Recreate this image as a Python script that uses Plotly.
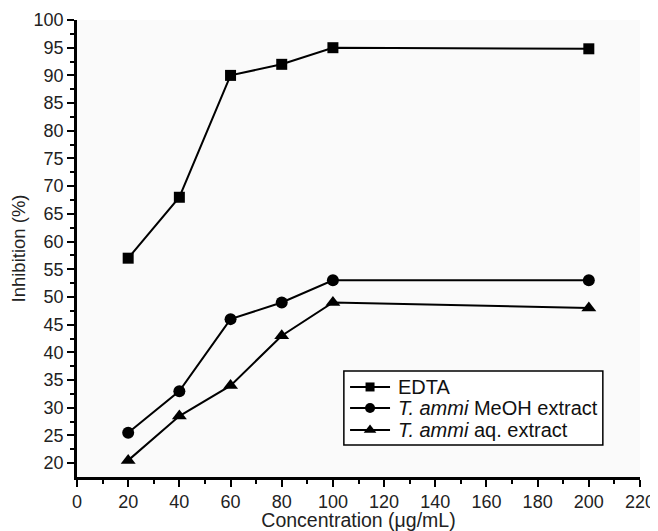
import plotly.graph_objects as go

conc = [20, 40, 60, 80, 100, 200]
edta = [57, 68, 90, 92, 95, 94.8]
meoh = [25.5, 33, 46, 49, 53, 53]
aq = [20.5, 28.5, 34, 43, 49, 48]

names = ["EDTA", "<i>T. ammi</i> MeOH extract", "<i>T. ammi</i> aq. extract"]
series = [edta, meoh, aq]
symbols = ["square", "circle", "triangle-up"]
sizes = [11, 12, 13]
legend_sizes = [9, 10, 11]

FONT = "Liberation Sans, Arial, Helvetica, sans-serif"

# legend box layout (fractions of the plot area)
LEG_X0, LEG_X1, LEG_Y0, LEG_Y1 = 0.474, 0.934, 0.070, 0.232
LEG_ROWS = [0.197, 0.151, 0.103]
LEG_LINE = (0.485, 0.556)
LEG_TEXT_X = 0.566

fig = go.Figure()
for n, s, sym, sz in zip(names, series, symbols, sizes):
    fig.add_trace(go.Scatter(x=conc, y=s, name=n, mode="lines+markers",
                             line=dict(color="black", width=2),
                             marker=dict(symbol=sym, size=sz, color="black"),
                             showlegend=False))

# hand-built legend (tighter row spacing than plotly's own legend)
fig.add_shape(type="rect", xref="paper", yref="paper",
              x0=LEG_X0, x1=LEG_X1, y0=LEG_Y0, y1=LEG_Y1,
              line=dict(color="black", width=1.5), fillcolor="white", layer="below")
for n, sym, sz, ry in zip(names, symbols, legend_sizes, LEG_ROWS):
    fig.add_trace(go.Scatter(x=list(LEG_LINE), y=[ry, ry], xaxis="x2", yaxis="y2",
                             mode="lines", line=dict(color="black", width=2),
                             showlegend=False, hoverinfo="skip"))
    fig.add_trace(go.Scatter(x=[sum(LEG_LINE) / 2], y=[ry], xaxis="x2", yaxis="y2",
                             mode="markers", marker=dict(symbol=sym, size=sz, color="black"),
                             showlegend=False, hoverinfo="skip"))
    fig.add_annotation(x=LEG_TEXT_X, y=ry, xref="paper", yref="paper", text=n,
                       showarrow=False, xanchor="left", yanchor="middle",
                       font=dict(family=FONT, size=20, color="#111"))

# the page adds an 8px body margin, so the figure is 8px smaller and margins shifted
fig.update_layout(
    width=650, height=523,
    margin=dict(l=69, r=18, t=12, b=54),
    paper_bgcolor="white", plot_bgcolor="#fafafa",
    font=dict(family=FONT, size=18, color="#222"),
    showlegend=False,
    xaxis2=dict(overlaying="x", anchor="y2", range=[0, 1], visible=False, fixedrange=True),
    yaxis2=dict(overlaying="y", anchor="x2", range=[0, 1], visible=False, fixedrange=True),
)
fig.update_layout(xaxis=dict(
    range=[0, 220], tickvals=list(range(0, 221, 20)), automargin=False,
    showgrid=False, zeroline=False, showline=True, linecolor="black", linewidth=2.5,
    ticks="outside", ticklen=7, tickwidth=2, tickcolor="black",
    tickfont=dict(size=18, color="#222"),
    minor=dict(tickvals=list(range(10, 220, 20)), ticks="outside", ticklen=4, tickwidth=2, tickcolor="black"),
    title=dict(text="Concentration (μg/mL)", font=dict(size=19.5, color="#222"), standoff=2)))
fig.update_layout(yaxis=dict(
    range=[17.5, 100], tickvals=list(range(20, 101, 5)), automargin=False,
    showgrid=False, zeroline=False, showline=True, linecolor="black", linewidth=2.5,
    ticks="outside", ticklen=7, tickwidth=2, tickcolor="black",
    tickfont=dict(size=18, color="#222"),
    minor=dict(tickvals=[x + 2.5 for x in range(20, 100, 5)], ticks="outside", ticklen=4, tickwidth=2, tickcolor="black"),
    title=dict(text="Inhibition (%)", font=dict(size=18.5, color="#222"), standoff=6)))

fig.write_html("out.html")
